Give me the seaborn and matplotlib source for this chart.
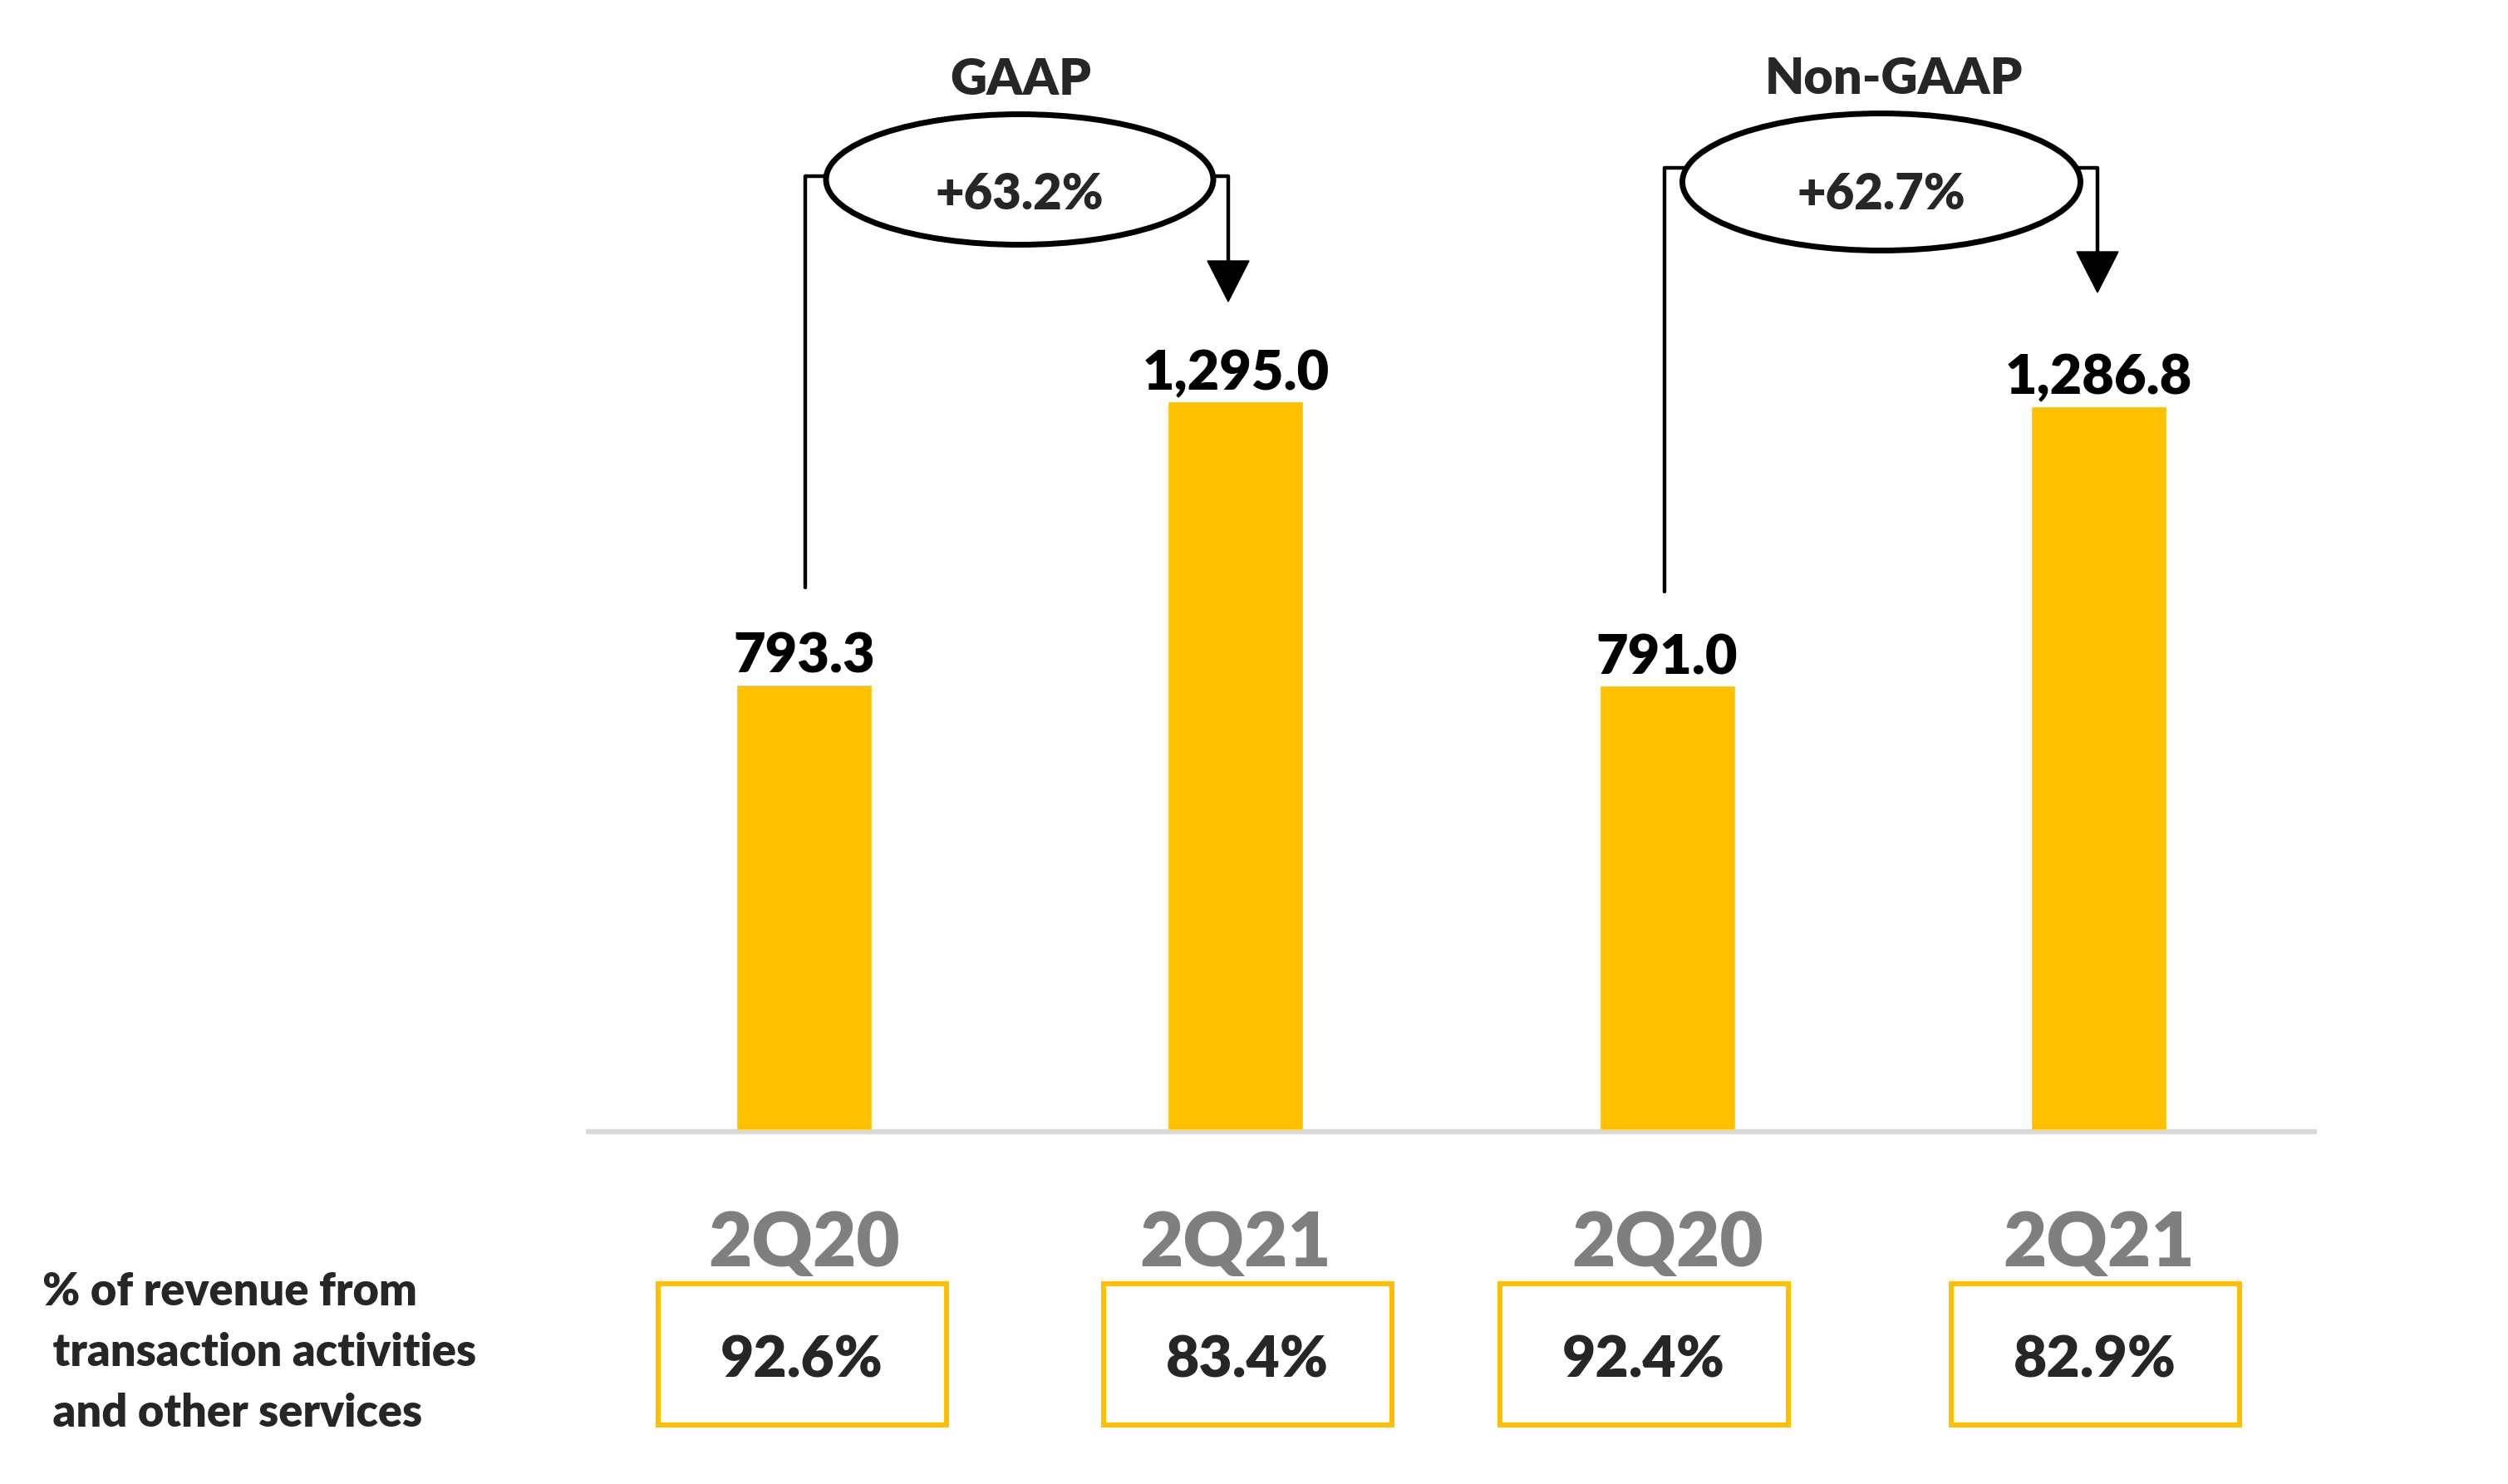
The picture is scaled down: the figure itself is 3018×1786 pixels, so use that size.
import pandas as pd
import seaborn as sns
import matplotlib.pyplot as plt
from matplotlib.patches import Ellipse, Rectangle, Polygon
from matplotlib.lines import Line2D

# chart data
slots = ["GAAP 2Q20", "GAAP 2Q21", "Non-GAAP 2Q20", "Non-GAAP 2Q21"]
quarters = ["2Q20", "2Q21", "2Q20", "2Q21"]
revenue = [793.3, 1295.0, 791.0, 1286.8]
groups = ["GAAP", "Non-GAAP"]
growth = ["+63.2%", "+62.7%"]
transaction_share = ["92.6%", "83.4%", "92.4%", "82.9%"]
side_note = "% of revenue from\n transaction activities\n and other services"

df = pd.DataFrame({"slot": slots, "revenue": revenue})

YELLOW = "#FFC000"
GREY = "#7F7F7F"
WEIGHT = "heavy"

sns.set_theme(style="white")
plt.rcParams["font.family"] = ["Lato", "DejaVu Sans"]
plt.rcParams["font.weight"] = WEIGHT

W, H = 3018, 1786
BASE = 1362  # pixel row of the baseline


def F(x, y):
    # pixel position (from top-left) -> figure fraction
    return (x / W, 1 - y / H)


fig = plt.figure(figsize=(W / 100, H / 100), dpi=100)
ax = fig.add_axes([708 / W, (H - BASE) / H, (2785 - 708) / W, BASE / H])

sns.barplot(data=df, x="slot", y="revenue", color=YELLOW, saturation=1,
            width=0.314, ax=ax)
ax.set_xlim(-0.5, 3.5)
ax.set_ylim(0, 1295.0 * BASE / 879)

for i, v in enumerate(revenue):
    ax.annotate(f"{v:,.1f}", (i, v), xytext=(0, 10), textcoords="offset points",
                ha="center", va="baseline", fontsize=48, fontweight=WEIGHT,
                color="black")

ax.set_xticks(range(4))
ax.set_xticklabels(quarters, fontsize=65, fontweight=WEIGHT, color=GREY)
ax.tick_params(axis="x", length=0, pad=68)
ax.set_yticks([])
ax.set_xlabel("")
ax.set_ylabel("")
sns.despine(ax=ax, left=True)
ax.spines["bottom"].set_color("#D9D9D9")
ax.spines["bottom"].set_linewidth(4.3)

# growth brackets: left x, top y, left bottom, right x, arrow tip, head top, ellipse
brackets = [
    dict(lx=969, ty=212, lb=707, rx=1478, tip=363, head=314, e=(1227, 216, 466, 157),
         title=(1228, 114)),
    dict(lx=2003, ty=202, lb=712, rx=2524, tip=352, head=303, e=(2264, 219, 479, 165),
         title=(2279, 113)),
]
for b, name, pct in zip(brackets, groups, growth):
    xs = [b["lx"], b["lx"], b["rx"], b["rx"]]
    ys = [b["lb"], b["ty"], b["ty"], b["head"]]
    pts = [F(x, y) for x, y in zip(xs, ys)]
    fig.add_artist(Line2D([p[0] for p in pts], [p[1] for p in pts],
                          color="black", lw=3.2, transform=fig.transFigure))
    fig.add_artist(Polygon([F(b["rx"] - 25, b["head"]), F(b["rx"] + 25, b["head"]),
                            F(b["rx"], b["tip"])], closed=True, color="black",
                           transform=fig.transFigure))
    cx, cy, ew, eh = b["e"]
    fig.add_artist(Ellipse(F(cx, cy), ew / W, eh / H, facecolor="white",
                           edgecolor="black", lw=5, transform=fig.transFigure,
                           zorder=5))
    fig.text(*F(cx, 252), pct, ha="center", va="baseline", fontsize=43,
             fontweight=WEIGHT, zorder=6)
    fig.text(*F(*b["title"]), name, ha="center", va="baseline", fontsize=44,
             fontweight=WEIGHT)

# boxes with transaction share
box_x = [965, 1501, 1978, 2521]
for x, s in zip(box_x, transaction_share):
    fig.add_artist(Rectangle(F(x - 173, 1715), 347 / W, 170 / H, fill=False,
                             edgecolor=YELLOW, lw=4.3, transform=fig.transFigure))
    fig.text(*F(x, 1657), s, ha="center", va="baseline", fontsize=50,
             fontweight=WEIGHT)

# baseline alignment of a multi-line text follows its last line
fig.text(*F(51, 1717), side_note, ha="left", va="baseline", fontsize=39,
         fontweight=WEIGHT, linespacing=1.56)

fig.savefig("out.png", dpi=100, facecolor="white")
